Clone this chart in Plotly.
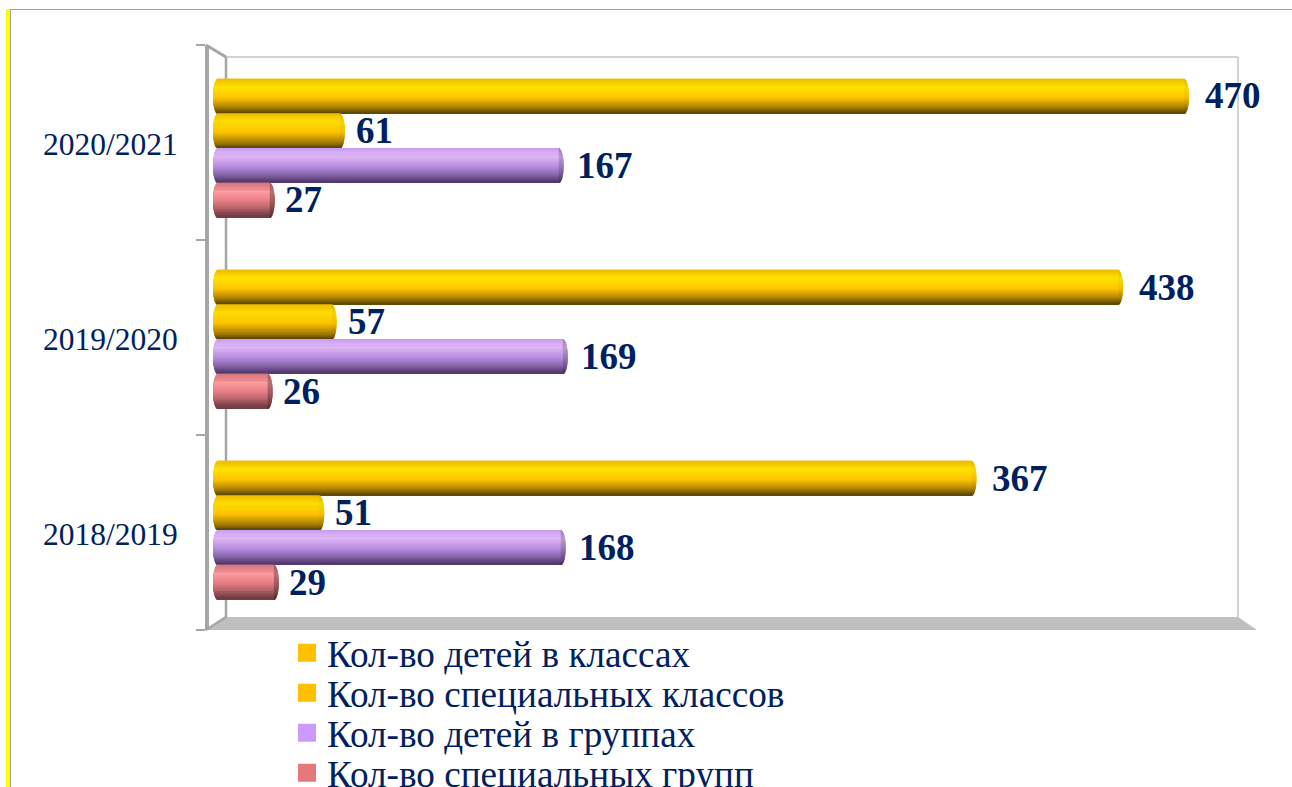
import math
import plotly.graph_objects as go

W, H = 1292, 787

years = ["2018/2019", "2019/2020", "2020/2021"]
kids_in_classes = [367, 438, 470]
special_classes = [51, 57, 61]
kids_in_groups = [168, 169, 167]
special_groups = [29, 26, 27]

series_names = ["Кол-во детей в классах", "Кол-во специальных классов",
                "Кол-во детей в группах", "Кол-во специальных групп"]
series_values = [kids_in_classes, special_classes, kids_in_groups, special_groups]
legend_colors = ["#FFC000", "#FFC000", "#CC99FF", "#E6787C"]

TEXT = "#002060"
SERIF = "Liberation Serif"
stops = [0, .25, .55, .8, 1]
ramps = [
    ["#F0BC00", "#FFE300", "#FFC400", "#B68A00", "#5C4500"],
    ["#F0BC00", "#FFDE00", "#FFC400", "#B68A00", "#5C4500"],
    ["#C79CEE", "#E8BCFF", "#BF92EA", "#8A68AC", "#50366C"],
    ["#E27C82", "#FF9CA0", "#E27C82", "#AA5C62", "#6E3A40"],
]
cap_factor = [0.96, 0.96, 0.8, 0.72]

PX_PER_UNIT = 2.064
ZERO_PX = 218
X0, X1 = 200, 1238
TOP, BOTTOM = 45, 630
GROUP_PX = 191
Y0_PX = 530
BAR_PX = 34.5
OFFSETS_PX = [52, 17.3, -17.3, -52]
SHIFTS = [15, 10, 12, 9]
RX_PX = 5
TIP_EXTRA_PX = 1
BANDS = 34
LEGEND_TOPS = [622, 662, 702, 742]
LABEL_NUDGE = 0.01


def ramp_color(ramp, f, k=1.0):
    for i in range(len(stops) - 1):
        if f <= stops[i + 1]:
            t = (f - stops[i]) / (stops[i + 1] - stops[i])
            a, b = ramp[i], ramp[i + 1]
            c = [int(a[j:j + 2], 16) * (1 - t) + int(b[j:j + 2], 16) * t for j in (1, 3, 5)]
            return "rgb(%d,%d,%d)" % tuple(v * k for v in c)
    return ramp[-1]


fig = go.Figure()
unit_y = 1 / GROUP_PX
r = RX_PX / PX_PER_UNIT
extra = TIP_EXTRA_PX / PX_PER_UNIT
pos = list(range(len(years)))

for si, vals in enumerate(series_values):
    for b in range(BANDS):
        f = (b + .5) / BANDS              # 0 top, 1 bottom of the cylinder
        s = math.sqrt(max(0, 1 - (2 * f - 1) ** 2))
        band = BAR_PX / BANDS * unit_y
        # every band but the last reaches under the next one, so no seams show
        width = band * (2 if b < BANDS - 1 else 1)
        offset = (OFFSETS_PX[si] + BAR_PX / 2) * unit_y - b * band - width
        common = dict(y=pos, orientation="h", yaxis="y2", xaxis="x", offset=offset,
                      width=width, showlegend=False, hoverinfo="skip")
        # rounded end of the cylinder, then its body
        fig.add_bar(x=[v - r + extra + 2 * r * s for v in vals], base=-r * s,
                    marker=dict(color=ramp_color(ramps[si], f, cap_factor[si]), line_width=0), **common)
        fig.add_bar(x=[v - r + extra + r * s for v in vals], base=-r * s,
                    marker=dict(color=ramp_color(ramps[si], f), line_width=0), **common)

annotations = []
for si, vals in enumerate(series_values):
    for p, v in zip(pos, vals):
        annotations.append(dict(x=v, y=p + OFFSETS_PX[si] * unit_y, xref="x", yref="y2", text=f"<b>{v}</b>",
                                showarrow=False, xanchor="left", xshift=SHIFTS[si],
                                font=dict(family=SERIF, size=37, color=TEXT)))


def px(x): return x / W
def py(y): return 1 - y / H


def line(x0, y0, x1, y1, color, w):
    return dict(type="line", xref="paper", yref="paper", x0=px(x0), y0=py(y0), x1=px(x1), y1=py(y1),
                line=dict(color=color, width=w), layer="below")


legends = {}
for i, (name, color, top) in enumerate(zip(series_names, legend_colors, LEGEND_TOPS)):
    key = "legend" if i == 0 else f"legend{i + 1}"
    fig.add_scatter(x=[None], y=[None], mode="markers", name=name, legend=key,
                    marker=dict(symbol="square", size=16, color=color, line=dict(color=color, width=2)))
    legends[key] = dict(x=px(287), y=py(top), xanchor="left", yanchor="top", bgcolor="rgba(0,0,0,0)",
                        font=dict(family=SERIF, size=37.2, color=TEXT), itemsizing="trace", maxheight=200,
                        itemclick=False, itemdoubleclick=False)

floor = "M %f %f L %f %f L %f %f L %f %f Z" % (px(206), py(630), px(226), py(617), px(1238), py(617), px(1257), py(630))
shapes = [
    dict(type="rect", xref="paper", yref="paper", x0=px(6), x1=px(10), y0=0, y1=py(9),
         fillcolor="#FFFF00", line_width=0, layer="below"),
    line(10.5, 9, 10.5, H, "#A0A0A0", 1),
    line(10, 9.5, W, 9.5, "#A0A0A0", 1),
    dict(type="path", xref="paper", yref="paper", path=floor, fillcolor="#BFBFBF", line_width=0, layer="below"),
    line(226, 57, 1238, 57, "#C4C4C4", 1.5),
    line(1238, 57, 1238, 617, "#C4C4C4", 1.5),
    line(226, 57, 226, 617, "#A6A6A6", 2.5),
    line(206, 45, 226, 57, "#A6A6A6", 3),
    line(206, 630, 226, 617, "#A6A6A6", 2.5),
]

fig.update_layout(
    width=W, height=H, autosize=False, margin=dict(l=0, r=0, t=0, b=0, autoexpand=False),
    paper_bgcolor="white", plot_bgcolor="rgba(0,0,0,0)", barmode="overlay",
    xaxis=dict(domain=[px(X0), px(X1)], range=[(X0 - ZERO_PX) / PX_PER_UNIT, (X1 - ZERO_PX) / PX_PER_UNIT],
               visible=False, anchor="y2"),
    yaxis=dict(domain=[py(BOTTOM), py(TOP)], range=[-.5, 2.5], anchor="free", position=px(207),
               tickvals=[p - LABEL_NUDGE for p in pos], ticktext=years, ticks="", showgrid=False, zeroline=False,
               showline=True, linecolor="#A6A6A6", linewidth=4, ticklabelstandoff=21,
               tickfont=dict(family=SERIF, size=31.5, color=TEXT),
               minor=dict(tickvals=[-.5, .5, 1.5, 2.5], ticks="outside", ticklen=9, tickcolor="#A6A6A6", tickwidth=1.5)),
    yaxis2=dict(domain=[py(BOTTOM), py(TOP)], overlaying="y", visible=False,
                range=[(Y0_PX - BOTTOM) * unit_y, (Y0_PX - TOP) * unit_y]),
    shapes=shapes, annotations=annotations,
    **legends,
)
fig.write_html("out.html", config={"displayModeBar": False},
               post_script="document.body.style.margin='0';document.documentElement.style.overflow='hidden';")
